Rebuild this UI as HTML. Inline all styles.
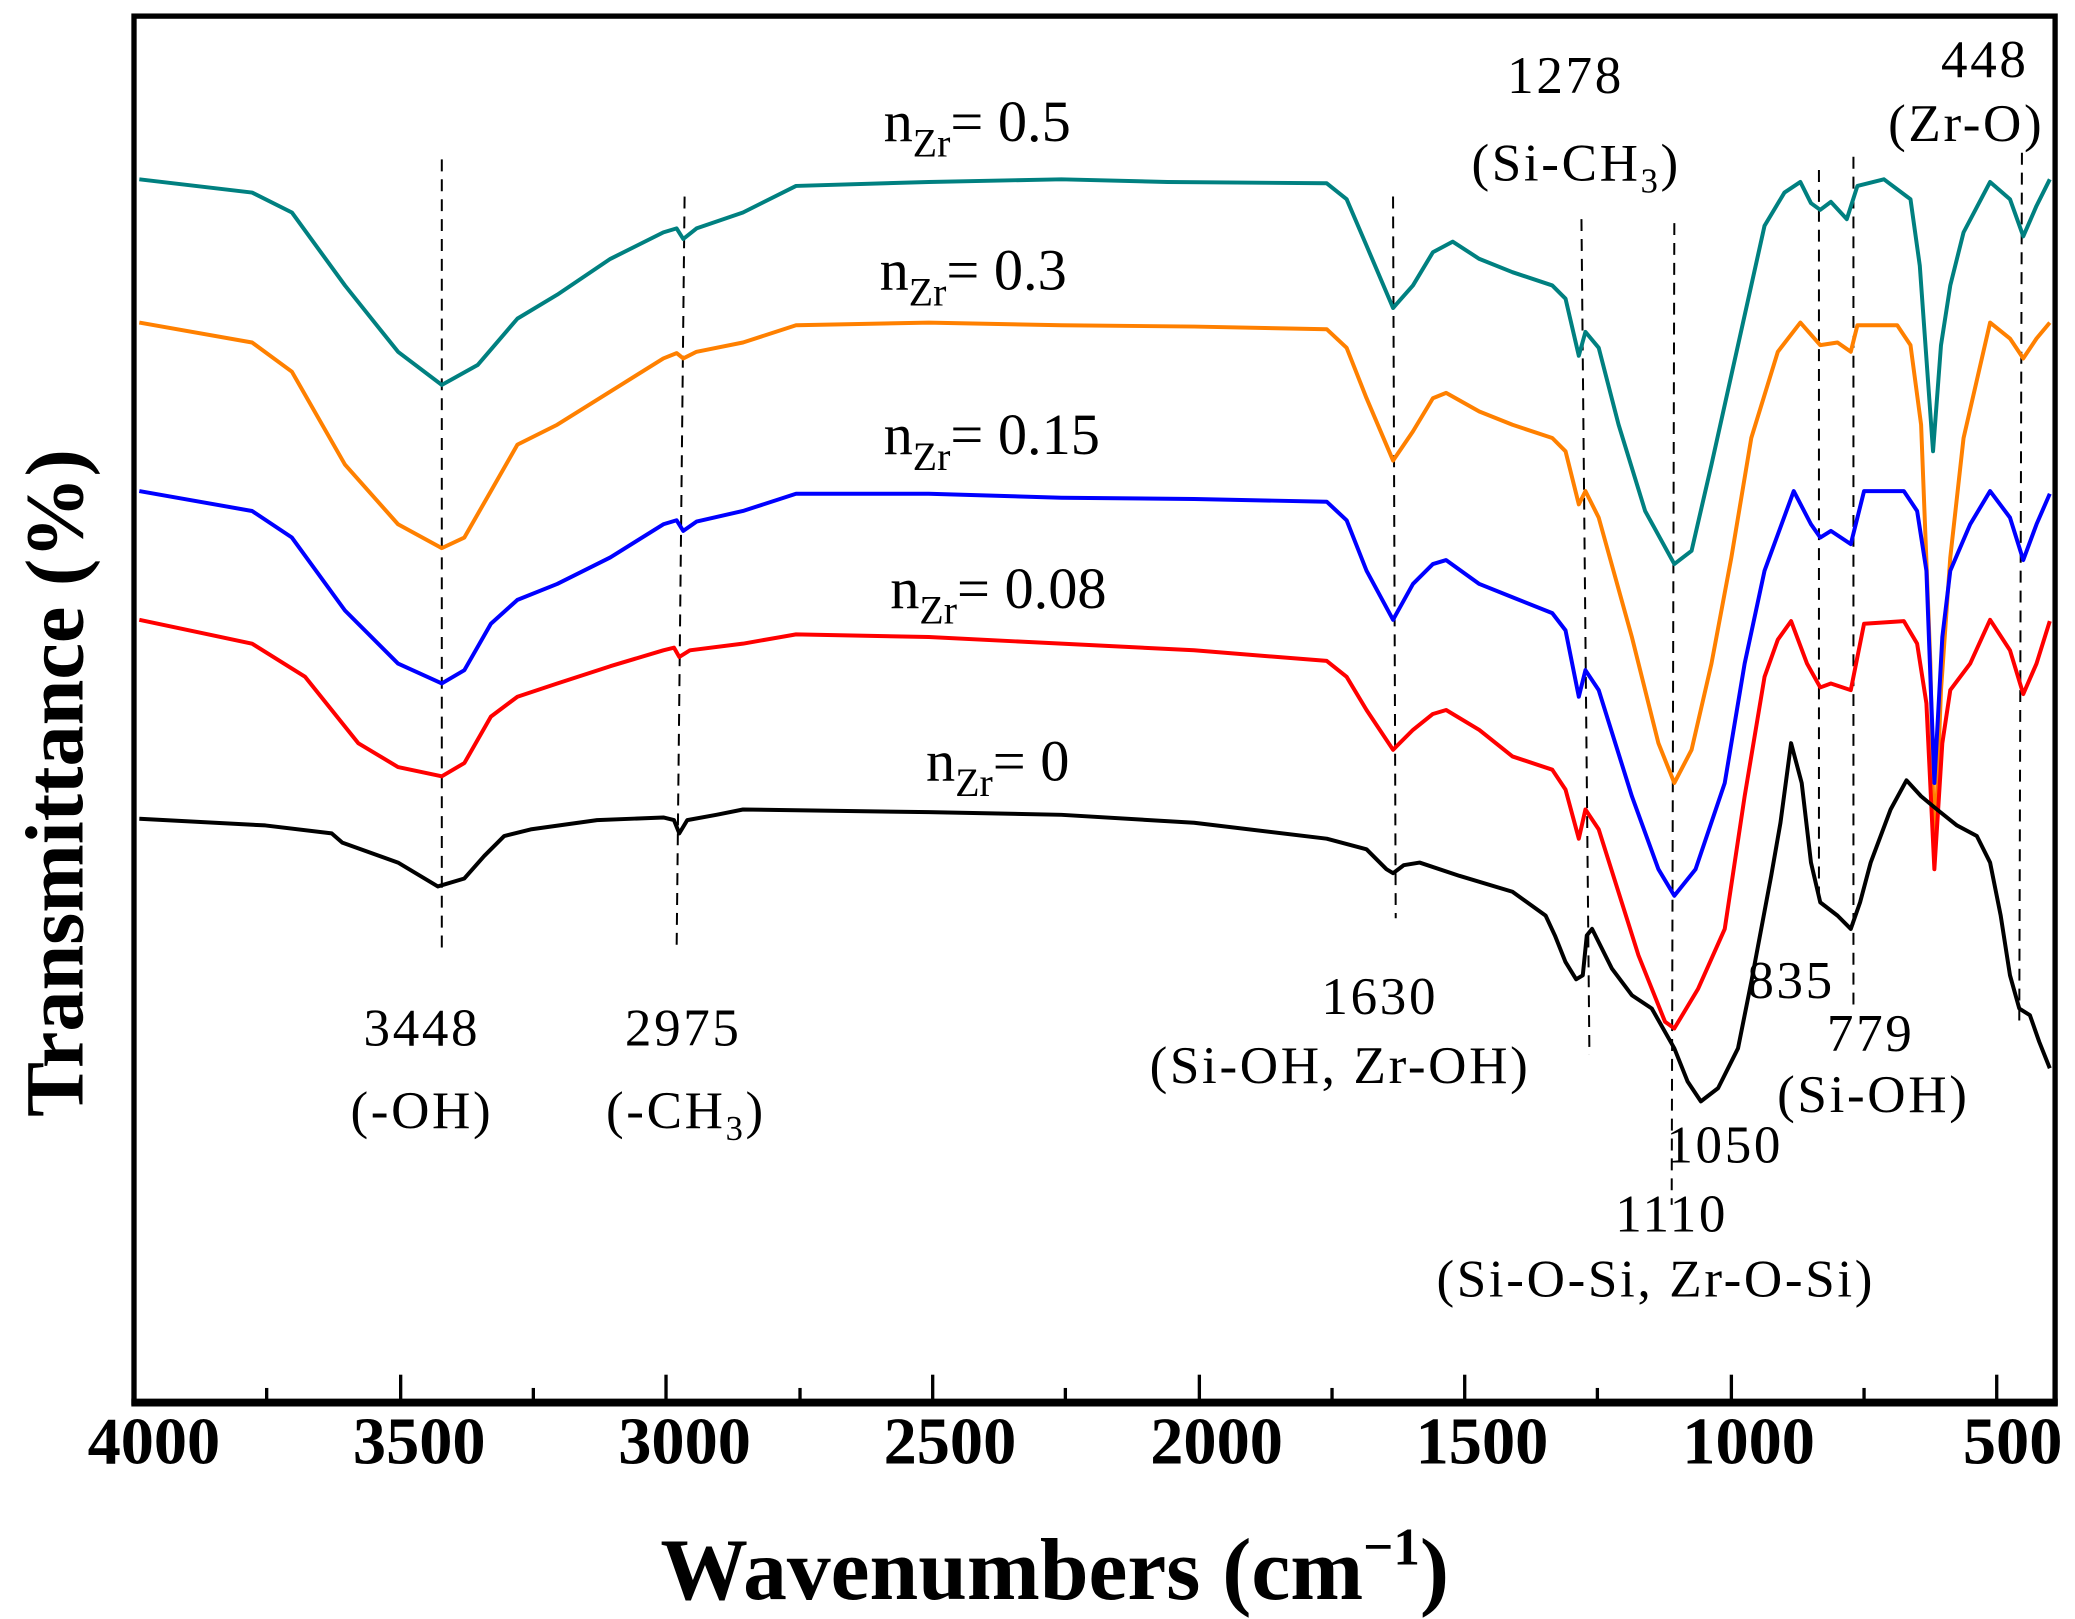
<!DOCTYPE html>
<html><head><meta charset="utf-8"><style>
html,body{margin:0;padding:0;background:#fff;}
svg{display:block;}
text{font-family:"Liberation Serif",serif;fill:#000;}
</style></head><body>
<svg width="2075" height="1619" viewBox="0 0 1564 1220" xmlns="http://www.w3.org/2000/svg">
<rect x="0" y="0" width="1564" height="1220" fill="#fff"/>
<g stroke="#000" stroke-width="1.5" stroke-dasharray="9,6" fill="none">
<line x1="333" y1="120" x2="333" y2="715"/>
<line x1="516" y1="148" x2="510" y2="715"/>
<line x1="1050" y1="148" x2="1052" y2="692"/>
<line x1="1192" y1="165" x2="1198" y2="795"/>
<line x1="1262" y1="168" x2="1260" y2="908"/>
<line x1="1371" y1="128" x2="1371" y2="675"/>
<line x1="1397" y1="118" x2="1397" y2="760"/>
<line x1="1524" y1="115" x2="1522" y2="770"/>
</g>
<g fill="none" stroke-width="3" stroke-linejoin="round">
<polyline stroke="#008080" points="105,135 190,145 220,160 260,215 300,265 333,290 360,275 390,240 420,222 460,195 500,175 510,172 515,180 525,172 560,160 600,140 700,137 800,135 880,137 1000,138 1015,150 1030,185 1050,232 1065,215 1080,190 1095,182 1115,195 1140,205 1170,215 1180,225 1190,268 1195,250 1205,262 1220,320 1240,385 1262,425 1275,415 1290,350 1310,260 1330,170 1345,145 1357,137 1365,153 1372,158 1380,152 1392,165 1400,140 1420,135 1440,150 1447,200 1452,270 1457,340 1463,260 1470,215 1480,175 1500,137 1515,150 1525,178 1535,155 1545,135"/>
<polyline stroke="#ff8000" points="105,243 190,258 220,280 260,350 300,395 333,413 350,405 370,370 390,335 420,320 460,295 500,270 510,266 515,270 525,265 560,258 600,245 700,243 800,245 900,246 1000,248 1015,262 1030,300 1050,347 1065,325 1080,300 1090,296 1115,310 1140,320 1170,330 1180,340 1190,380 1195,370 1205,390 1230,480 1250,560 1262,590 1275,565 1290,500 1305,420 1320,330 1340,265 1357,243 1372,260 1385,258 1395,265 1400,245 1430,245 1440,260 1448,320 1455,500 1458,650 1463,520 1470,420 1480,330 1500,243 1515,255 1525,270 1535,255 1545,243"/>
<polyline stroke="#0000ff" points="105,370 190,385 220,405 260,460 300,500 333,515 350,505 370,470 390,452 420,440 460,420 500,395 510,392 515,400 525,393 560,385 600,372 700,372 800,375 900,376 1000,378 1015,392 1030,430 1050,467 1065,440 1080,425 1090,422 1115,440 1140,450 1170,462 1180,475 1190,525 1195,505 1205,520 1230,600 1250,655 1262,675 1278,655 1300,590 1315,500 1330,430 1352,370 1365,395 1372,405 1380,400 1395,410 1405,370 1435,370 1445,385 1452,430 1458,590 1464,480 1470,430 1485,395 1500,370 1515,390 1525,422 1535,395 1545,372"/>
<polyline stroke="#ff0000" points="105,467 190,485 230,510 270,560 300,578 333,585 350,575 370,540 390,525 420,515 460,502 500,490 508,488 512,495 520,490 560,485 600,478 700,480 800,485 900,490 1000,498 1015,510 1030,535 1050,565 1065,550 1080,538 1090,535 1115,550 1140,570 1170,580 1180,595 1190,632 1195,610 1205,625 1235,720 1255,770 1262,775 1280,745 1300,700 1315,600 1330,510 1340,482 1350,468 1362,500 1372,518 1380,515 1395,520 1405,470 1435,468 1445,485 1452,530 1458,655 1464,560 1470,520 1485,500 1500,467 1515,490 1525,523 1535,500 1545,468"/>
<polyline stroke="#000000" points="105,617 200,622 250,628 258,635 300,650 330,668 350,662 365,645 380,630 400,625 450,618 500,616 508,618 512,628 518,618 540,614 560,610 700,612 800,614 900,620 1000,632 1030,640 1045,655 1050,658 1058,652 1070,650 1100,660 1140,672 1165,690 1172,705 1180,725 1188,738 1193,735 1196,705 1200,700 1215,730 1230,750 1245,760 1262,790 1272,815 1282,830 1295,820 1310,790 1320,740 1335,660 1342,620 1350,560 1358,590 1365,650 1372,680 1385,690 1395,700 1402,680 1410,650 1425,610 1437,588 1448,600 1460,610 1475,622 1490,630 1500,650 1508,690 1515,735 1522,760 1530,765 1537,785 1545,805"/>
</g>
<g stroke="#000" fill="none">
<rect x="101" y="12" width="1448" height="1045" stroke-width="4"/>
<line x1="99" y1="1057" x2="1551" y2="1057" stroke-width="6"/>
</g>
<g stroke="#000" stroke-width="2.5">
<line x1="101" y1="1055" x2="101" y2="1036"/>
<line x1="201" y1="1055" x2="201" y2="1046"/>
<line x1="302" y1="1055" x2="302" y2="1036"/>
<line x1="402" y1="1055" x2="402" y2="1046"/>
<line x1="502" y1="1055" x2="502" y2="1036"/>
<line x1="603" y1="1055" x2="603" y2="1046"/>
<line x1="703" y1="1055" x2="703" y2="1036"/>
<line x1="803" y1="1055" x2="803" y2="1046"/>
<line x1="904" y1="1055" x2="904" y2="1036"/>
<line x1="1004" y1="1055" x2="1004" y2="1046"/>
<line x1="1104" y1="1055" x2="1104" y2="1036"/>
<line x1="1204" y1="1055" x2="1204" y2="1046"/>
<line x1="1305" y1="1055" x2="1305" y2="1036"/>
<line x1="1405" y1="1055" x2="1405" y2="1046"/>
<line x1="1505" y1="1055" x2="1505" y2="1036"/>
</g>
<g font-size="50" font-weight="bold" text-anchor="middle">
<text x="116" y="1103">4000</text>
<text x="316" y="1103">3500</text>
<text x="516" y="1103">3000</text>
<text x="716" y="1103">2500</text>
<text x="917" y="1103">2000</text>
<text x="1117" y="1103">1500</text>
<text x="1318" y="1103">1000</text>
<text x="1517" y="1103">500</text>
</g>
<text x="795" y="1205" font-size="66" font-weight="bold" text-anchor="middle">Wavenumbers (cm<tspan font-size="40" dy="-26">−1</tspan><tspan dy="26">)</tspan></text>
<text transform="translate(62,590) rotate(-90)" font-size="62" font-weight="bold" text-anchor="middle">Transmittance (%)</text>
<g font-size="44">
<text x="666" y="106">n<tspan font-size="30" dy="12">Zr</tspan><tspan dy="-12">= 0.5</tspan></text>
<text x="663" y="218">n<tspan font-size="30" dy="12">Zr</tspan><tspan dy="-12">= 0.3</tspan></text>
<text x="666" y="342">n<tspan font-size="30" dy="12">Zr</tspan><tspan dy="-12">= 0.15</tspan></text>
<text x="671" y="458">n<tspan font-size="30" dy="12">Zr</tspan><tspan dy="-12">= 0.08</tspan></text>
<text x="698" y="588">n<tspan font-size="30" dy="12">Zr</tspan><tspan dy="-12">= 0</tspan></text>
</g>
<g font-size="40" text-anchor="middle" letter-spacing="2">
<text x="318" y="788">3448</text>
<text x="318" y="850">(-OH)</text>
<text x="515" y="788">2975</text>
<text x="517" y="850">(-CH<tspan font-size="26" dy="9">3</tspan><tspan dy="-9">)</tspan></text>
<text x="1040" y="764">1630</text>
<text x="1010" y="816">(Si-OH, Zr-OH)</text>
<text x="1180" y="70">1278</text>
<text x="1188" y="136">(Si-CH<tspan font-size="26" dy="9">3</tspan><tspan dy="-9">)</tspan></text>
<text x="1496" y="58">448</text>
<text x="1482" y="106">(Zr-O)</text>
<text x="1350" y="752">835</text>
<text x="1410" y="792">779</text>
<text x="1412" y="838">(Si-OH)</text>
<text x="1300" y="876">1050</text>
<text x="1260" y="928">1110</text>
<text x="1248" y="977">(Si-O-Si, Zr-O-Si)</text>
</g>
</svg>
</body></html>
